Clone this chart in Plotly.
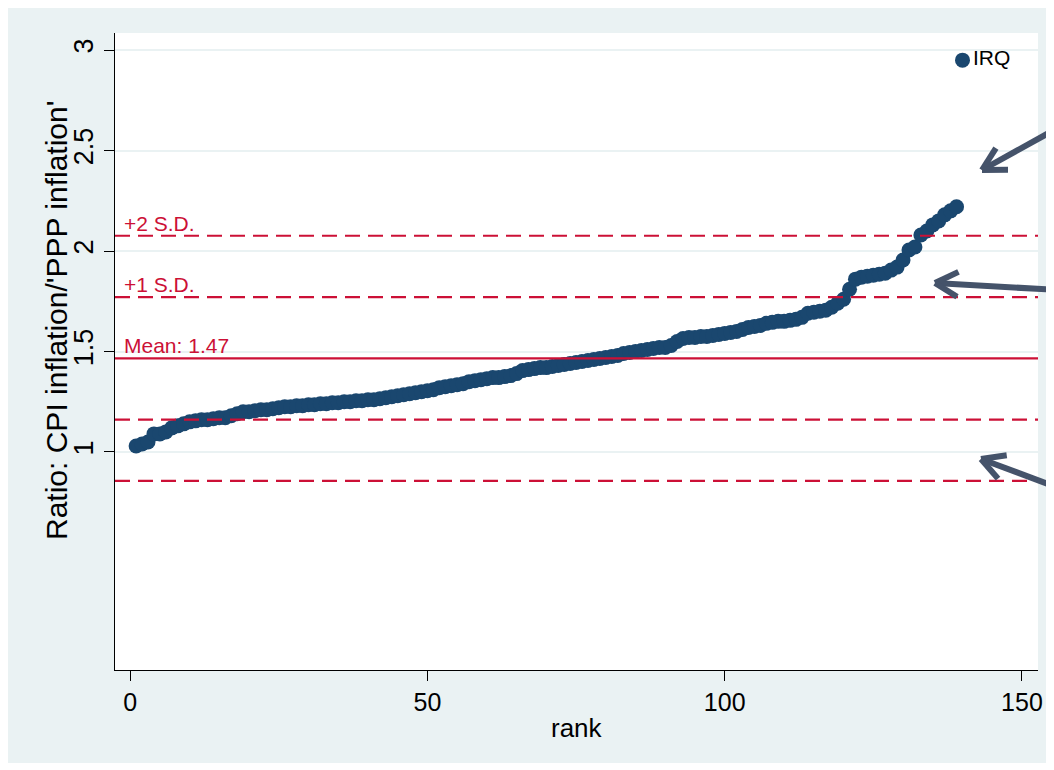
import plotly.graph_objects as go
import math

# ---------------- data ----------------
ratio_values = [
    1.03, 1.04, 1.05, 1.09, 1.09, 1.10, 1.12, 1.13, 1.14, 1.15,
    1.155, 1.16, 1.16, 1.165, 1.17, 1.17, 1.18, 1.19, 1.20, 1.20,
    1.205, 1.21, 1.21, 1.215, 1.22, 1.225, 1.225, 1.23, 1.23, 1.235,
    1.235, 1.24, 1.24, 1.245, 1.245, 1.25, 1.25, 1.255, 1.255, 1.26,
    1.26, 1.265, 1.27, 1.275, 1.28, 1.285, 1.29, 1.295, 1.30, 1.305,
    1.31, 1.32, 1.325, 1.33, 1.335, 1.34, 1.35, 1.355, 1.36, 1.365,
    1.37, 1.37, 1.375, 1.38, 1.39, 1.405, 1.41, 1.415, 1.42, 1.42,
    1.425, 1.43, 1.435, 1.44, 1.445, 1.45, 1.455, 1.46, 1.465, 1.47,
    1.475, 1.48, 1.49, 1.495, 1.50, 1.505, 1.51, 1.515, 1.52, 1.52,
    1.53, 1.55, 1.565, 1.57, 1.57, 1.575, 1.575, 1.58, 1.585, 1.59,
    1.595, 1.60, 1.61, 1.62, 1.625, 1.63, 1.64, 1.645, 1.65, 1.65,
    1.655, 1.66, 1.67, 1.69, 1.695, 1.70, 1.705, 1.72, 1.74, 1.76,
    1.81, 1.86, 1.87, 1.875, 1.88, 1.885, 1.89, 1.905, 1.92, 1.955,
    2.005, 2.02, 2.08, 2.10, 2.13, 2.15, 2.18, 2.20, 2.22,
]
ranks = list(range(1, len(ratio_values) + 1))

outlier_label = ["IRQ"]
outlier_rank = [140]
outlier_value = [2.95]

mean_value = 1.466
sd_value = 0.305
ref_labels = {2: "+2 S.D.", 1: "+1 S.D.", 0: "Mean: 1.47"}
ref_multiples = [-2, -1, 0, 1, 2]

x_ticks = [0, 50, 100, 150]
y_ticks = [1, 1.5, 2, 2.5, 3]
y_ticktext = ["1", "1.5", "2", "2.5", "3"]

# ---------------- layout helpers ----------------
# the page body adds an 8px offset; work in page pixel coordinates
OFF = 8
PAGE_W, PAGE_H = 1054, 770
W, H = PAGE_W - OFF, PAGE_H - OFF
PLOT_L, PLOT_R, PLOT_T, PLOT_B = 115, 1038, 33, 670   # page pixels
L = PLOT_L - OFF
T = PLOT_T - OFF
R = PAGE_W - PLOT_R
B = PAGE_H - PLOT_B
PW, PH = PLOT_R - PLOT_L, PLOT_B - PLOT_T


def px(x):
    return (x - PLOT_L) / PW


def py(y):
    return (PLOT_B - y) / PH


BG = "#eaf2f3"
NAVY = "#1a476f"
RED = "#cc1036"
ARROW = "#45536a"
FONT = "Liberation Sans, Arial, sans-serif"

fig = go.Figure()

fig.add_trace(go.Scatter(
    x=ranks, y=ratio_values, mode="markers",
    marker=dict(color=NAVY, size=15, line=dict(width=0)),
    showlegend=False, hoverinfo="x+y",
))
fig.add_trace(go.Scatter(
    x=outlier_rank, y=outlier_value, mode="markers+text",
    text=outlier_label, textposition="middle right",
    textfont=dict(family=FONT, size=21, color="black"),
    marker=dict(color=NAVY, size=15, line=dict(width=0)),
    showlegend=False,
))

shapes = []
annotations = []

# white strip at the bottom of the exported image
shapes.append(dict(type="rect", xref="paper", yref="paper", x0=px(0), x1=px(PAGE_W + 20),
                   y0=py(PAGE_H + 20), y1=py(763), fillcolor="white", line=dict(width=0),
                   layer="above"))

# reference lines
for k in ref_multiples:
    yv = mean_value + k * sd_value
    shapes.append(dict(
        type="line", xref="paper", yref="y", x0=0, x1=1, y0=yv, y1=yv,
        line=dict(color=RED, width=2.2, dash="solid" if k == 0 else "15px,8px"),
        layer="above",
    ))
    if k in ref_labels:
        annotations.append(dict(
            xref="paper", yref="y", x=px(122), y=yv, text=ref_labels[k],
            showarrow=False, xanchor="left", yanchor="bottom", yshift=-1,
            font=dict(family=FONT, size=21, color=RED),
        ))

# decorative arrows (page pixel geometry)
arrows = [((982, 170), (1110, 99)), ((935, 283), (1110, 293)), ((981, 459), (1110, 507))]
for (hx, hy), (tx, ty) in arrows:
    shapes.append(dict(type="line", xref="paper", yref="paper",
                       x0=px(tx), y0=py(ty), x1=px(hx), y1=py(hy),
                       line=dict(color=ARROW, width=6), layer="above"))
    ang = math.atan2(ty - hy, tx - hx)
    for d in (-0.5, 0.5):
        wx = hx + 26 * math.cos(ang + d)
        wy = hy + 26 * math.sin(ang + d)
        shapes.append(dict(type="line", xref="paper", yref="paper",
                           x0=px(hx), y0=py(hy), x1=px(wx), y1=py(wy),
                           line=dict(color=ARROW, width=6), layer="above"))

# axis titles
annotations.append(dict(xref="paper", yref="paper", x=px(577), y=py(728), text="rank",
                        xanchor="center", yanchor="middle",
                        showarrow=False, font=dict(family=FONT, size=26, color="black")))
annotations.append(dict(xref="paper", yref="paper", x=px(56), y=py(321),
                        xanchor="center", yanchor="middle",
                        text="Ratio: CPI inflation/'PPP inflation'", textangle=-90,
                        showarrow=False, font=dict(family=FONT, size=30, color="black")))

fig.update_layout(
    width=W, height=H,
    margin=dict(l=L, r=R, t=T, b=B, autoexpand=False),
    paper_bgcolor=BG, plot_bgcolor="white",
    font=dict(family=FONT, size=20, color="black"),
    shapes=shapes, annotations=annotations,
    xaxis=dict(range=[-2.55, 152.7], tickvals=x_ticks, ticks="outside", ticklen=10,
               tickcolor="black", showgrid=False, zeroline=False, showline=True,
               linecolor="black", linewidth=1, tickfont=dict(size=25)),
    yaxis=dict(range=[-0.085, 3.085], tickvals=y_ticks, ticktext=y_ticktext,
               ticks="outside", ticklen=10, tickcolor="black", tickangle=-90,
               showgrid=True, gridcolor=BG, gridwidth=2, zeroline=False,
               showline=True, linecolor="black", linewidth=1, tickfont=dict(size=27)),
)

fig.write_html("out.html")
